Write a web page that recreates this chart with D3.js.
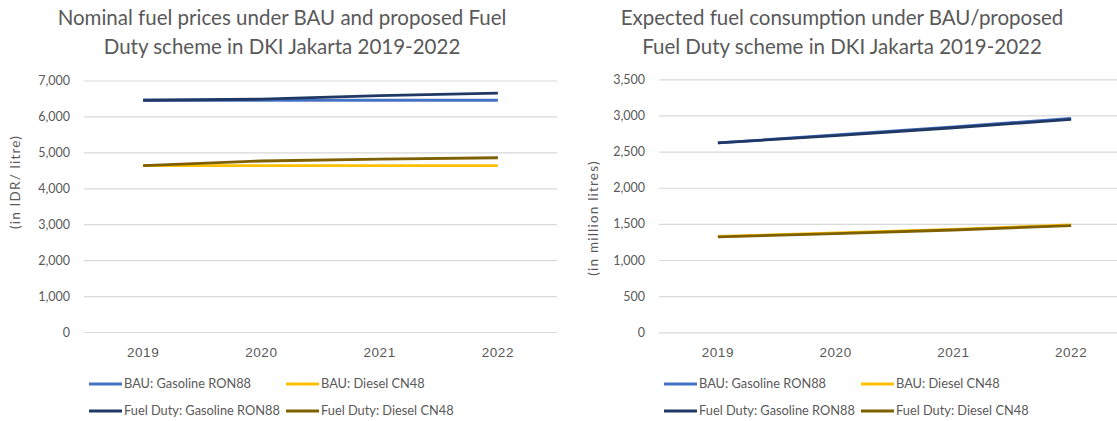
<!DOCTYPE html>
<html>
<head>
<meta charset="utf-8">
<script src="https://cdn.jsdelivr.net/npm/d3@7"></script>
<style>
  body { margin: 0; background: #fff; }
  svg { display: block; font-family: Lato, "Open Sans", sans-serif; }
  .tick text { fill: #595959; }
</style>
</head>
<body>
<div id="chart"></div>
<script>
// chart data
const years = ["2019", "2020", "2021", "2022"];
const seriesNames = ["BAU: Gasoline RON88", "BAU: Diesel CN48", "Fuel Duty: Gasoline RON88", "Fuel Duty: Diesel CN48"];

// nominal fuel prices (IDR / litre)
const priceBauGasoline = [6450, 6450, 6450, 6450];
const priceBauDiesel = [4630, 4630, 4630, 4630];
const priceDutyGasoline = [6450, 6480, 6580, 6650];
const priceDutyDiesel = [4630, 4760, 4810, 4850];
const priceTicks = [0, 1000, 2000, 3000, 4000, 5000, 6000, 7000];

// expected fuel consumption (million litres)
const consBauGasoline = [2620, 2730, 2840, 2960];
const consBauDiesel = [1325, 1375, 1425, 1485];
const consDutyGasoline = [2620, 2720, 2830, 2945];
const consDutyDiesel = [1320, 1365, 1415, 1475];
const consTicks = [0, 500, 1000, 1500, 2000, 2500, 3000, 3500];

const colors = ["#4472C4", "#FFC000", "#203864", "#7F6000"];

const svg = d3.select("#chart")
    .append("svg")
    .attr("width", 1117)
    .attr("height", 421);

function drawPanel(opts) {
    const g = svg.append("g");

    const x = d3.scaleBand()
        .domain(years)
        .range([opts.left, opts.right]);

    const y = d3.scaleLinear()
        .domain([0, d3.max(opts.ticks)])
        .range([opts.bottom, opts.top]);

    // title, two lines
    g.append("text")
        .attr("x", opts.titleX)
        .attr("y", 25)
        .attr("text-anchor", "middle")
        .style("font-size", "20.5px")
        .style("fill", "#595959")
        .selectAll("tspan")
        .data(opts.title)
        .enter().append("tspan")
        .attr("x", opts.titleX)
        .attr("dy", (d, i) => i === 0 ? 0 : 29)
        .text(d => d);

    // gridlines + y labels
    const yAxis = g.append("g")
        .attr("transform", `translate(${opts.left},0)`)
        .call(d3.axisLeft(y)
            .tickValues(opts.ticks)
            .tickSize(-(opts.right - opts.left))
            .tickPadding(14)
            .tickFormat(d3.format(",")));
    yAxis.select(".domain").remove();
    yAxis.selectAll(".tick line").attr("stroke", "#d9d9d9").attr("stroke-width", 1.2);
    yAxis.selectAll(".tick text").style("font-size", "12.5px").style("font-family", "Lato, sans-serif");

    // x labels
    const xAxis = g.append("g")
        .attr("transform", `translate(0,${opts.bottom})`)
        .call(d3.axisBottom(x).tickSize(0).tickPadding(15));
    xAxis.select(".domain").remove();
    xAxis.selectAll(".tick text")
        .style("font-size", "13.5px")
        .style("letter-spacing", "0.6px");

    // y axis title
    g.append("text")
        .attr("transform", `translate(${opts.axisTitleX},${opts.axisTitleY}) rotate(-90)`)
        .attr("text-anchor", "middle")
        .style("font-size", "13.5px")
        .style("letter-spacing", "1.2px")
        .style("fill", "#595959")
        .text(opts.axisTitle);

    // lines
    const line = d3.line()
        .x((d, i) => x(years[i]) + x.bandwidth() / 2)
        .y(d => y(d));

    opts.series.forEach((values, i) => {
        g.append("path")
            .datum(values)
            .attr("d", line)
            .attr("fill", "none")
            .attr("stroke", colors[i])
            .attr("stroke-width", 2.8);
    });

    // legend, 2 x 2
    const legend = g.selectAll(".legend")
        .data(seriesNames)
        .enter().append("g")
        .attr("class", "legend")
        .attr("transform", (d, i) => `translate(${opts.left + 5 + (i % 2) * 197},${384 + Math.floor(i / 2) * 27})`);

    legend.append("line")
        .attr("x1", 0)
        .attr("x2", 33)
        .attr("stroke", (d, i) => colors[i])
        .attr("stroke-width", 2.8);

    legend.append("text")
        .attr("x", 35)
        .attr("dy", "0.35em")
        .style("font-size", "12.8px")
        .style("fill", "#595959")
        .text(d => d);
}

drawPanel({
    left: 84, right: 557, top: 80.5, bottom: 332,
    ticks: priceTicks,
    title: ["Nominal fuel prices under BAU and proposed Fuel", "Duty scheme in DKI Jakarta 2019-2022"],
    titleX: 282,
    axisTitle: "(in IDR/ litre)",
    axisTitleX: 20, axisTitleY: 182,
    series: [priceBauGasoline, priceBauDiesel, priceDutyGasoline, priceDutyDiesel]
});

drawPanel({
    left: 659, right: 1130, top: 79.3, bottom: 332.3,
    ticks: consTicks,
    title: ["Expected fuel consumption under BAU/proposed", "Fuel Duty scheme in DKI Jakarta 2019-2022"],
    titleX: 842,
    axisTitle: "(in million litres)",
    axisTitleX: 598, axisTitleY: 218,
    series: [consBauGasoline, consBauDiesel, consDutyGasoline, consDutyDiesel]
});
</script>
</body>
</html>
